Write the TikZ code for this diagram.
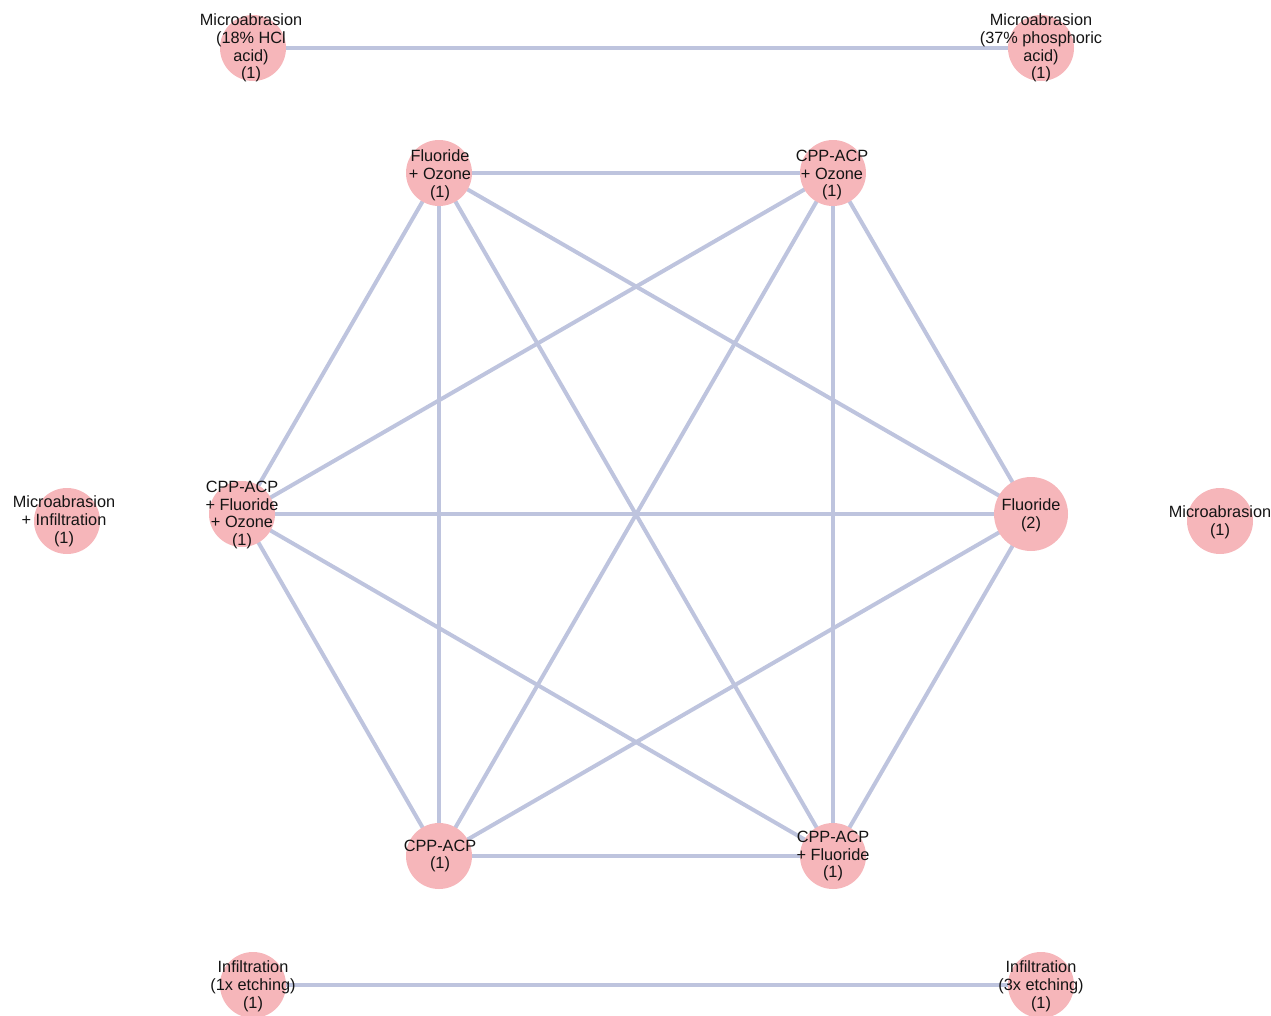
\documentclass[tikz,border=0pt]{standalone}
\usepackage{fontspec}
\setmainfont{Liberation Sans}
\usetikzlibrary{backgrounds}
\definecolor{edgecol}{RGB}{190,196,222}
\definecolor{nodecol}{RGB}{246,182,186}
\begin{document}
\begin{tikzpicture}[x=1pt,y=-1pt,
  trt/.style={circle,fill=nodecol,draw=none,inner sep=0pt,minimum size=66pt},
  trtbig/.style={trt,minimum size=74pt},
  lbl/.style={align=center,inner sep=0pt,font=\fontsize{16.3}{17.8}\selectfont,text=black!92},
  edge/.style={draw=edgecol,line width=4pt}]
\useasboundingbox (0,0) rectangle (1271,1015);
% nodes (circles)
\node[trt] (hcl) at (253,48) {};
\node[trt] (phos) at (1041,48) {};
\node[trt] (fo) at (439,173) {};
\node[trt] (co) at (833,173) {};
\node[trt] (cfo) at (242,514) {};
\node[trtbig] (f) at (1031,514) {};
\node[trt] (mi) at (67,521) {};
\node[trt] (m) at (1220,521) {};
\node[trt] (c) at (439,856) {};
\node[trt] (cf) at (833,856) {};
\node[trt] (ione) at (253,985) {};
\node[trt] (ithree) at (1041,985) {};
% labels
\node[lbl] (hclt) at (251,48) {Microabrasion\\(18\% HCl\\acid)\\(1)};
\node[lbl] (phost) at (1041,48) {Microabrasion\\(37\% phosphoric\\acid)\\(1)};
\node[lbl] (fot) at (440,175) {Fluoride\\+ Ozone\\(1)};
\node[lbl] (cot) at (832,175) {CPP-ACP\\+ Ozone\\(1)};
\node[lbl] (cfot) at (242,515) {CPP-ACP\\+ Fluoride\\+ Ozone\\(1)};
\node[lbl] (ft) at (1031,515) {Fluoride\\(2)};
\node[lbl] (mit) at (64,521) {Microabrasion\\+ Infiltration\\(1)};
\node[lbl] (mt) at (1220,522) {Microabrasion\\(1)};
\node[lbl] (ct) at (440,856) {CPP-ACP\\(1)};
\node[lbl] (cft) at (833,856) {CPP-ACP\\+ Fluoride\\(1)};
\node[lbl] (ionet) at (253,986) {Infiltration\\(1x etching)\\(1)};
\node[lbl] (ithreet) at (1041,986) {Infiltration\\(3x etching)\\(1)};
% edges
\begin{scope}[on background layer]
\draw[edge] (hcl.center) -- (phos.center);
\draw[edge] (ione.center) -- (ithree.center);
\foreach \a/\b in {fo/co,fo/cfo,fo/f,fo/c,fo/cf,co/cfo,co/f,co/c,co/cf,cfo/f,cfo/c,cfo/cf,f/c,f/cf,c/cf}
  \draw[edge] (\a.center) -- (\b.center);
\end{scope}
\end{tikzpicture}
\end{document}
